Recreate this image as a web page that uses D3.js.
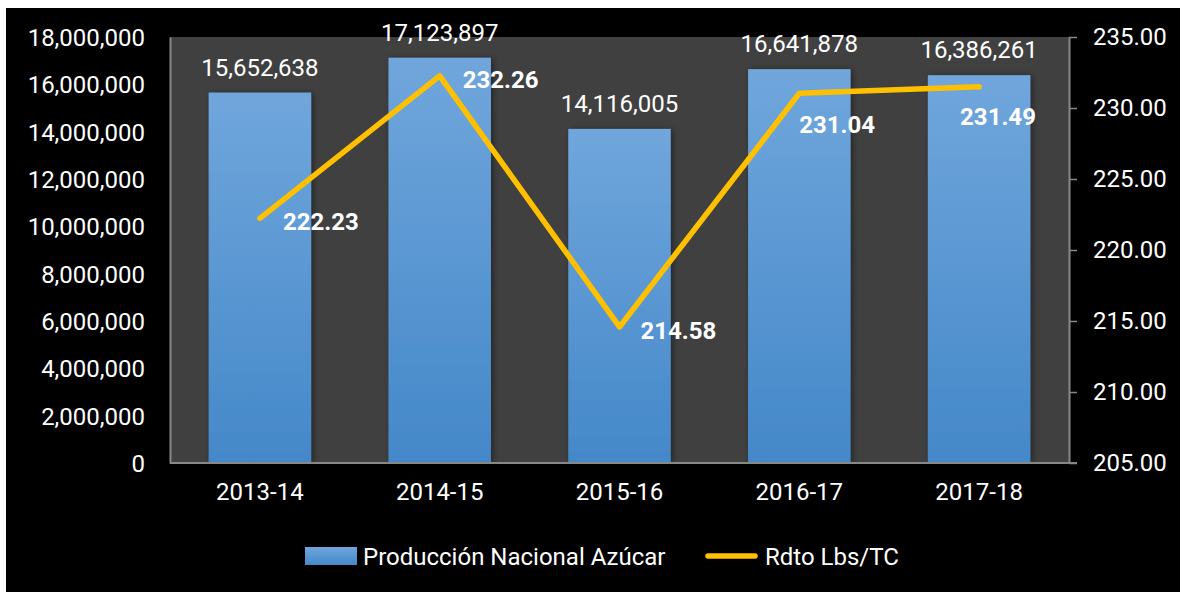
<!DOCTYPE html>
<html lang="es">
<head>
<meta charset="UTF-8">
<title>Producción Nacional Azúcar</title>
<script src="https://cdn.jsdelivr.net/npm/d3@7"></script>
<style>
  html, body { margin: 0; padding: 0; background: #fff; }
  svg { display: block; font-family: Roboto, "Noto Sans", sans-serif; }
  .tick text { fill: #fff; font-size: 24px; font-family: Roboto, "Noto Sans", sans-serif; }
</style>
</head>
<body>
<div id="chart"></div>
<script>
// datos
const zafras = ["2013-14", "2014-15", "2015-16", "2016-17", "2017-18"];
const produccion = [15652638, 17123897, 14116005, 16641878, 16386261];
const rendimiento = [222.23, 232.26, 214.58, 231.04, 231.49];
const leftTicks = [0, 2000000, 4000000, 6000000, 8000000, 10000000, 12000000, 14000000, 16000000, 18000000];
const rightTicks = [205, 210, 215, 220, 225, 230, 235];
const seriesNames = ["Producción Nacional Azúcar", "Rdto Lbs/TC"];

// posición de las etiquetas de la línea (relativa al punto)
const lineLabelShift = [[23, 3], [23, 3], [21, 3], [0, 31], [-19, 30]];

const W = 1180, H = 592;
const plot = { left: 170, right: 1069, top: 37, bottom: 463 };

const svg = d3.select("#chart").append("svg")
  .attr("width", W).attr("height", H);

const defs = svg.append("defs");
const grad = defs.append("linearGradient")
  .attr("id", "barGrad").attr("x1", 0).attr("y1", 0).attr("x2", 0).attr("y2", 1);
grad.append("stop").attr("offset", "0%").attr("stop-color", "#70a6dc");
grad.append("stop").attr("offset", "100%").attr("stop-color", "#4488c9");

const shadow = defs.append("filter").attr("id", "shadow")
  .attr("x", "-20%").attr("y", "-20%").attr("width", "140%").attr("height", "140%");
shadow.append("feDropShadow")
  .attr("dx", 2).attr("dy", 1).attr("stdDeviation", 3)
  .attr("flood-color", "#000").attr("flood-opacity", 0.45);

// fondo
svg.append("rect").attr("x", 6).attr("y", 8)
  .attr("width", W - 6).attr("height", H - 8).attr("fill", "#000");
svg.append("rect").attr("x", plot.left).attr("y", plot.top)
  .attr("width", plot.right - plot.left).attr("height", plot.bottom - plot.top)
  .attr("fill", "#404040");

// escalas
const x = d3.scaleBand().domain(zafras)
  .range([plot.left, plot.right]).paddingInner(0.43).paddingOuter(0.215);
const y = d3.scaleLinear().domain([0, 18000000]).range([plot.bottom, plot.top]);
const y2 = d3.scaleLinear().domain([205, 235]).range([plot.bottom, plot.top]);
const cx = d => x(d) + x.bandwidth() / 2;

// barras
svg.append("g").selectAll("rect").data(zafras).join("rect")
  .attr("x", d => x(d))
  .attr("y", (d, i) => y(produccion[i]))
  .attr("width", x.bandwidth())
  .attr("height", (d, i) => y(0) - y(produccion[i]))
  .attr("fill", "url(#barGrad)")
  .attr("filter", "url(#shadow)");

// etiquetas barras
svg.append("g").selectAll("text").data(zafras).join("text")
  .attr("x", cx)
  .attr("y", (d, i) => y(produccion[i]) - 17)
  .attr("text-anchor", "middle")
  .attr("fill", "#fff").attr("font-size", 24)
  .text((d, i) => d3.format(",")(produccion[i]));

// ejes
const axisLeft = svg.append("g")
  .attr("transform", `translate(${plot.left},0)`)
  .call(d3.axisLeft(y).tickValues(leftTicks).tickFormat(d3.format(",")).tickSize(0).tickPadding(25));
axisLeft.select(".domain").attr("stroke", "#888").attr("stroke-width", 2);
axisLeft.selectAll(".tick text").attr("dy", "0.36em");

const axisRight = svg.append("g")
  .attr("transform", `translate(${plot.right},0)`)
  .call(d3.axisRight(y2).tickValues(rightTicks).tickFormat(d3.format(".2f")).tickSize(8).tickSizeOuter(0).tickPadding(16));
axisRight.select(".domain").attr("stroke", "#888").attr("stroke-width", 2);
axisRight.selectAll(".tick line").attr("stroke", "#888").attr("stroke-width", 1.5);

const axisBottom = svg.append("g")
  .attr("transform", `translate(0,${plot.bottom})`)
  .call(d3.axisBottom(x).tickSize(0).tickPadding(20));
axisBottom.select(".domain").remove();
axisBottom.selectAll(".tick text").attr("dy", "0.71em");
svg.append("line")
  .attr("x1", plot.left).attr("x2", plot.right + 8)
  .attr("y1", plot.bottom).attr("y2", plot.bottom)
  .attr("stroke", "#888").attr("stroke-width", 2);

// línea rendimiento
const line = d3.line()
  .x((d, i) => cx(zafras[i]))
  .y(d => y2(d));
svg.append("path").datum(rendimiento)
  .attr("d", line)
  .attr("fill", "none").attr("stroke", "#ffc000")
  .attr("stroke-width", 5.5)
  .attr("stroke-linecap", "round").attr("stroke-linejoin", "round");

svg.append("g").selectAll("text").data(rendimiento).join("text")
  .attr("x", (d, i) => cx(zafras[i]) + lineLabelShift[i][0])
  .attr("y", (d, i) => y2(d) + lineLabelShift[i][1])
  .attr("dy", "0.36em")
  .attr("fill", "#fff").attr("font-size", 24).attr("font-weight", "bold")
  .text(d => d3.format(".2f")(d));

// leyenda
const legend = svg.append("g").attr("transform", "translate(0,556)");
legend.append("rect").attr("x", 305).attr("y", -9).attr("width", 52).attr("height", 18)
  .attr("fill", "url(#barGrad)");
legend.append("text").attr("x", 363).attr("dy", "0.36em")
  .attr("fill", "#fff").attr("font-size", 24).text(seriesNames[0]);
legend.append("line").attr("x1", 708).attr("x2", 755)
  .attr("stroke", "#ffc000").attr("stroke-width", 5.5).attr("stroke-linecap", "round");
legend.append("text").attr("x", 765).attr("dy", "0.36em")
  .attr("fill", "#fff").attr("font-size", 24).text(seriesNames[1]);
</script>
</body>
</html>
